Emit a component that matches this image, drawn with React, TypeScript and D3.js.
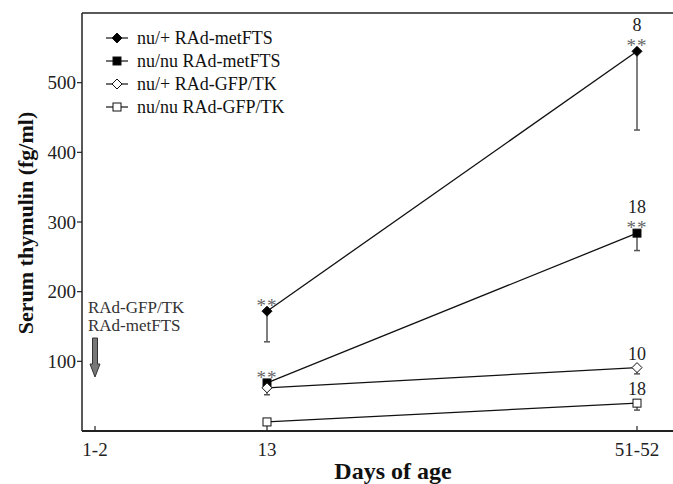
import React from "react";
import * as d3 from "d3";

const tickLabels = ["1-2", "13", "51-52"];
const tickDays = [1.5, 13, 51.5];
const sampleDays = [13, 51.5];
const yTicks = [100, 200, 300, 400, 500];

const seriesNames = ["nu/+ RAd-metFTS", "nu/nu RAd-metFTS", "nu/+ RAd-GFP/TK", "nu/nu RAd-GFP/TK"];
const seriesShapes = ["diamond", "square", "diamond", "square"];
const seriesFilled = [true, true, false, false];
const metFtsHet = [172, 545];
const metFtsNude = [69, 284];
const gfpHet = [62, 91];
const gfpNude = [13, 40];
const metFtsHetLow = [128, 432];
const metFtsNudeLow = [69, 259];
const gfpHetLow = [52, 82];
const gfpNudeLow = [13, 30];
const seriesValues = [metFtsHet, metFtsNude, gfpHet, gfpNude];
const seriesLows = [metFtsHetLow, metFtsNudeLow, gfpHetLow, gfpNudeLow];
const nLabels = [["", "8"], ["", "18"], ["", "10"], ["", "18"]];
const sigLabels = [["**", "**"], ["**", "**"], ["", ""], ["", ""]];
const injectionLabels = ["RAd-GFP/TK", "RAd-metFTS"];

const FONT = "'Liberation Serif', 'Times New Roman', serif";

function Marker({ shape, filled, x, y }: { shape: string; filled: boolean; x: number; y: number }) {
  const fill = filled ? "#000" : "#fff";
  if (shape === "diamond") {
    const r = 5;
    return (
      <path
        d={`M${x},${y - r}L${x + r},${y}L${x},${y + r}L${x - r},${y}Z`}
        fill={fill}
        stroke="#111"
        strokeWidth={1}
      />
    );
  }
  const s = 4;
  return <rect x={x - s} y={y - s} width={2 * s} height={2 * s} fill={fill} stroke="#111" strokeWidth={1} />;
}

export default function App() {
  const W = 673;
  const H = 484;
  const left = 82;
  const top = 13;
  const bottom = 431;
  const right = 673;

  const x = d3.scaleLinear().domain(tickDays).range([95, 267, 637]);
  const y = d3.scaleLinear().domain([0, 600]).range([bottom, top]);
  const line = d3
    .line<number>()
    .x((_, i) => x(sampleDays[i]))
    .y((v) => y(v));

  return (
    <svg width={W} height={H} style={{ position: "absolute", left: 0, top: 0, background: "#fff" }} fontFamily={FONT}>
      <rect width={W} height={H} fill="#fff" />
      {/* frame */}
      <line x1={left} x2={right} y1={top} y2={top} stroke="#222" strokeWidth={1.3} />
      <line x1={left} x2={left} y1={top} y2={bottom} stroke="#222" strokeWidth={1.5} />
      <line x1={left} x2={right} y1={bottom} y2={bottom} stroke="#222" strokeWidth={1.8} />

      {/* y ticks */}
      {yTicks.map((t) => (
        <g key={t}>
          <line x1={left - 5} x2={left} y1={y(t)} y2={y(t)} stroke="#222" strokeWidth={1.2} />
          <text x={left - 6} y={y(t)} dy="0.35em" textAnchor="end" fontSize={19} fill="#222">
            {t}
          </text>
        </g>
      ))}

      {/* x ticks */}
      {tickDays.map((d, i) => (
        <g key={d}>
          <line x1={x(d)} x2={x(d)} y1={bottom} y2={bottom - 5} stroke="#222" strokeWidth={1.2} />
          <text x={x(d)} y={456} textAnchor="middle" fontSize={19} fill="#222">
            {tickLabels[i]}
          </text>
        </g>
      ))}

      {/* axis titles */}
      <text
        transform={`translate(25,${223}) rotate(-90)`}
        textAnchor="middle"
        dy="0.35em"
        fontSize={22}
        fontWeight="bold"
        fill="#111"
      >
        Serum thymulin (fg/ml)
      </text>
      <text x={393} y={479} textAnchor="middle" fontSize={24} fontWeight="bold" fill="#111">
        Days of age
      </text>

      {/* error bars */}
      {seriesValues.map((vals, si) =>
        vals.map((v, i) => {
          const low = seriesLows[si][i];
          if (low >= v) return null;
          const cx = x(sampleDays[i]);
          return (
            <g key={`e${si}-${i}`} stroke="#555" strokeWidth={1.5}>
              <line x1={cx} x2={cx} y1={y(v)} y2={y(low)} />
              <line x1={cx - 3} x2={cx + 3} y1={y(low)} y2={y(low)} />
            </g>
          );
        })
      )}

      {/* lines */}
      {seriesValues.map((vals, si) => (
        <path key={`l${si}`} d={line(vals) || ""} fill="none" stroke="#111" strokeWidth={1.3} />
      ))}

      {/* markers */}
      {seriesValues.map((vals, si) =>
        vals.map((v, i) => (
          <Marker
            key={`m${si}-${i}`}
            shape={seriesShapes[si]}
            filled={seriesFilled[si]}
            x={x(sampleDays[i])}
            y={y(v)}
          />
        ))
      )}

      {/* annotations */}
      {seriesValues.map((vals, si) =>
        vals.map((v, i) => {
          const cx = x(sampleDays[i]);
          const sig = sigLabels[si][i];
          const n = nLabels[si][i];
          const nY = sig ? y(v) - 20 : y(v) - 8;
          return (
            <g key={`a${si}-${i}`}>
              {sig && (
                <text x={cx} y={y(v) + 1} textAnchor="middle" fontSize={19} fill="#666" letterSpacing={1}>
                  {sig}
                </text>
              )}
              {n && (
                <text x={cx} y={nY} textAnchor="middle" fontSize={18} fill="#222">
                  {n}
                </text>
              )}
            </g>
          );
        })
      )}

      {/* legend */}
      {seriesNames.map((name, i) => {
        const ly = 38 + i * 23;
        return (
          <g key={name}>
            <line x1={106} x2={128} y1={ly} y2={ly} stroke="#111" strokeWidth={1.2} />
            <Marker shape={seriesShapes[i]} filled={seriesFilled[i]} x={117} y={ly} />
            <text x={137} y={ly} dy="0.35em" fontSize={18} fill="#111">
              {name}
            </text>
          </g>
        );
      })}

      {/* injection note */}
      {injectionLabels.map((t, i) => (
        <text key={t} x={88} y={307 + i * 18} dy="0.35em" fontSize={17} fill="#333">
          {t}
        </text>
      ))}
      <path
        d={`M${x(1.5) - 2.5},338 L${x(1.5) + 2.5},338 L${x(1.5) + 2.5},364 L${x(1.5) + 5},364 L${x(1.5)},377 L${x(1.5) - 5},364 L${x(1.5) - 2.5},364 Z`}
        fill="#777"
        stroke="#333"
        strokeWidth={1}
      />
    </svg>
  );
}
